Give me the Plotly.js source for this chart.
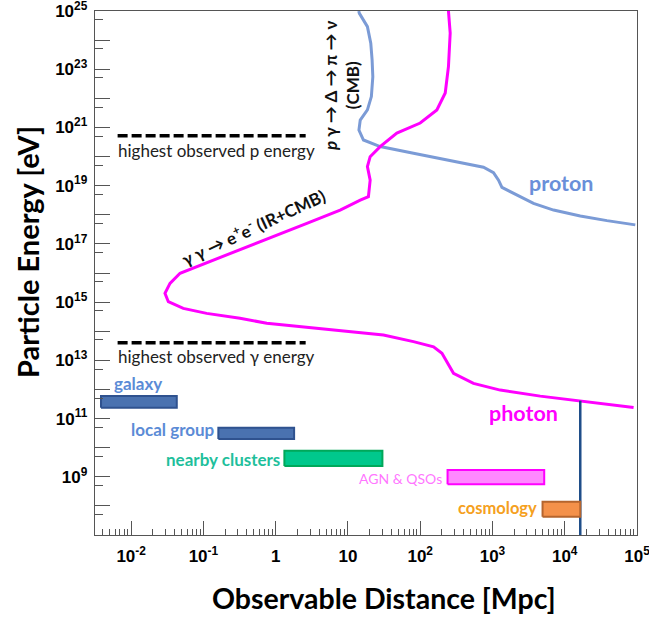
<!DOCTYPE html>
<html><head><meta charset="utf-8">
<script src="https://cdn.plot.ly/plotly-3.0.1.min.js"></script>
<style>html,body{margin:0;padding:0;background:#fff}#chart{width:649px;height:619px}</style>
</head><body><div id="chart"></div>
<script>
// ---- data ----
const protonDist = [14.1, 14.4, 18.6, 20.7, 21.6, 22.1, 21.1, 18.6, 14.8, 14.2, 16.4, 27.9, 80.7, 234, 751, 1033, 1213, 1352, 2178, 3698, 7000, 16400, 38400, 94700];
const protonEnergy = [1e25, 8.3e24, 2.9e24, 7.8e23, 2.1e23, 5.5e22, 1.15e22, 4.0e21, 1.8e21, 8.1e20, 3.7e20, 2.2e20, 1.3e20, 7.6e19, 4.3e19, 2.8e19, 1.55e19, 8.7e18, 4.8e18, 2.45e18, 1.45e18, 9.1e17, 6.3e17, 4.5e17];

const photonDist = [246, 260, 246, 222, 170, 100, 47.5, 27.9, 20.3, 18.6, 20.3, 19.2, 14.8, 7.8, 2.70, 0.93, 0.321, 0.111, 0.0475, 0.0345, 0.0294, 0.0327, 0.0527, 0.111, 0.321, 0.753, 2.70, 9.66, 31.0, 80.7, 153, 200, 246, 289, 546, 1280, 4580, 16400, 38400, 89700];
const photonEnergy = [1e25, 1.75e24, 1.22e23, 1.52e22, 4.0e21, 1.42e21, 6.4e20, 2.2e20, 9.9e19, 4.5e19, 1.55e19, 4.2e18, 3.2e18, 1.45e18, 5.1e17, 1.77e17, 6.2e16, 2.15e16, 9.8e15, 4.4e15, 2.0e15, 1.03e15, 6.1e14, 4.1e14, 2.8e14, 1.87e14, 1.36e14, 1.04e14, 7.4e13, 4.4e13, 2.9e13, 1.74e13, 6.9e12, 3.6e12, 1.62e12, 9.5e11, 5.9e11, 4.1e11, 3.2e11, 2.4e11];

const horizonDist = [16400, 16400];
const horizonEnergy = [4.1e11, 1e7];

const maxPDist = [0.0065, 2.6];
const maxPEnergy = [5.2e20, 5.2e20];
const maxGDist = [0.0065, 2.6];
const maxGEnergy = [4.0e13, 4.0e13];

const scaleNames = ["galaxy", "local group", "nearby clusters", "AGN & QSOs", "cosmology"];
const scaleDistMin = [0.00383, 0.161, 1.32, 239, 4930];
const scaleDistMax = [0.0428, 1.80, 30.0, 5200, 16400];
const scaleEnergyMin = [2.36e11, 1.98e10, 2.34e9, 5.5e8, 4.25e7];
const scaleEnergyMax = [5.9e11, 4.85e10, 7.85e9, 1.71e9, 1.39e8];

const yTickExp = [7,8,9,10,11,12,13,14,15,16,17,18,19,20,21,22,23,24,25];
const xTickExp = [-2,-1,0,1,2,3,4,5];
const xTickText = ["10<sup>-2</sup>","10<sup>-1</sup>","1","10","10<sup>2</sup>","10<sup>3</sup>","10<sup>4</sup>","10<sup>5</sup>"];

// ---- styles ----
const scaleFill = ["#4a72b0", "#4a72b0", "#00c88c", "#ff88ff", "#f4914a"];
const scaleLine = ["#2f528f", "#2f528f", "#00a85a", "#ff00ff", "#b5652e"];

const traces = [];
traces.push({x: protonDist, y: protonEnergy, mode: 'lines', line: {color: '#7b9bd6', width: 3}, hoverinfo: 'skip'});
traces.push({x: photonDist, y: photonEnergy, mode: 'lines', line: {color: '#ff00ff', width: 3}, hoverinfo: 'skip'});
traces.push({x: horizonDist, y: horizonEnergy, mode: 'lines', line: {color: '#1f4e89', width: 2.5}, hoverinfo: 'skip'});
traces.push({x: maxPDist, y: maxPEnergy, mode: 'lines', line: {color: '#000', width: 3.5, dash: '10px,4px'}, hoverinfo: 'skip'});
traces.push({x: maxGDist, y: maxGEnergy, mode: 'lines', line: {color: '#000', width: 3.5, dash: '10px,4px'}, hoverinfo: 'skip'});
for (let i = 0; i < scaleNames.length; i++) {
  const a = scaleDistMin[i], b = scaleDistMax[i], c = scaleEnergyMin[i], d = scaleEnergyMax[i];
  traces.push({x: [a, b, b, a, a], y: [c, c, d, d, c], mode: 'lines', fill: 'toself',
    fillcolor: scaleFill[i], line: {color: scaleLine[i], width: 2}, name: scaleNames[i], hoverinfo: 'skip'});
}

const yMinor = [];
for (let e = 7; e < 25; e++) yMinor.push(5 * Math.pow(10, e));
const xMinor = [];
for (let e = -3; e < 5; e++) for (let m = 2; m <= 9; m++) xMinor.push(m * Math.pow(10, e));

const txt = 'Lato, "Open Sans", sans-serif';
const X = px => -2.5 + (px - 95) / 72.23;
const Y = py => 25 - (py - 11) / 29.11;
const ann = [
  {x: X(137.5), y: Y(383), text: 'galaxy', font: {family: txt, size: 17, color: '#5b8bd6', weight: 'bold'}},
  {x: X(172.8), y: Y(429), text: 'local group', font: {family: txt, size: 17, color: '#5b8bd6', weight: 'bold'}},
  {x: X(223.3), y: Y(459.3), text: 'nearby clusters', font: {family: txt, size: 17, color: '#1fbf9c', weight: 'bold'}},
  {x: X(400), y: Y(478.3), text: 'AGN &amp; QSOs', font: {family: txt, size: 14, color: '#ff77ff'}},
  {x: X(497.5), y: Y(508.3), text: 'cosmology', font: {family: txt, size: 16.5, color: '#f5a020', weight: 'bold'}},
  {x: X(523), y: Y(413.3), text: 'photon', font: {family: txt, size: 21.5, color: '#ff00ff', weight: 'bold'}},
  {x: X(561), y: Y(183.3), text: 'proton', font: {family: txt, size: 21.5, color: '#6a8fd9', weight: 'bold'}},
  {x: X(116), y: Y(150.7), xanchor: 'left', text: 'highest observed p energy', font: {family: txt, size: 17, color: '#222'}},
  {x: X(116), y: Y(356.7), xanchor: 'left', text: 'highest observed γ energy', font: {family: txt, size: 17, color: '#222'}},
  {x: X(341), y: Y(86), textangle: -90, text: '<i>p</i> γ → Δ → π → ν<br>(CMB)', font: {family: txt, size: 17, color: '#111', weight: 'bold'}},
  {x: X(253), y: Y(226), textangle: -25, text: 'γ γ → e<sup>+</sup>e<sup>-</sup> (IR+CMB)', font: {family: txt, size: 17, color: '#111', weight: 'bold'}},
  {xref: 'paper', yref: 'paper', x: (384-95)/541.7, y: 1 - (598-11)/524, text: 'Observable Distance [Mpc]', font: {family: txt, size: 28.5, color: '#000', weight: 'bold'}},
  {xref: 'paper', yref: 'paper', x: (28-95)/541.7, y: 1 - (252-11)/524, textangle: -90, text: 'Particle Energy [eV]', font: {family: txt, size: 29, color: '#000', weight: 'bold'}}
].map(a => Object.assign({xref: 'x', yref: 'y', showarrow: false, xanchor: 'center', yanchor: 'middle'}, a));

const layout = {
  width: 649, height: 619,
  margin: {l: 95, r: 12.3, t: 11, b: 84},
  paper_bgcolor: '#fff', plot_bgcolor: '#fff',
  showlegend: false,
  xaxis: {type: 'log', range: [-2.5, 5], showgrid: false, zeroline: false,
    showline: true, linecolor: '#555', linewidth: 1.3, mirror: true,
    ticks: 'inside', ticklen: 14, tickcolor: '#555', tickwidth: 1,
    tickmode: 'array', tickvals: xTickExp.map(e => Math.pow(10, e)), ticktext: xTickText,
    tickfont: {family: '"Liberation Sans", Arial, sans-serif', size: 17, color: '#000', weight: 'bold'},
    ticklabelstandoff: 5, ticklabeloverflow: 'allow',
    minor: {tickmode: 'array', tickvals: xMinor, ticks: 'inside', ticklen: 6, tickcolor: '#555', tickwidth: 1, showgrid: false}},
  yaxis: {type: 'log', range: [7, 25], showgrid: false, zeroline: false,
    showline: true, linecolor: '#555', linewidth: 1.3, mirror: true,
    ticks: 'inside', ticklen: 15, tickcolor: '#555', tickwidth: 1,
    tickmode: 'array', tickvals: yTickExp.map(e => Math.pow(10, e)),
    ticktext: yTickExp.map(e => (e % 2 === 1 && e > 7) ? '10<sup>' + e + '</sup>' : ''),
    tickfont: {family: '"Liberation Sans", Arial, sans-serif', size: 17, color: '#000', weight: 'bold'},
    ticklabelstandoff: 3, ticklabeloverflow: 'allow',
    minor: {tickmode: 'array', tickvals: yMinor, ticks: 'inside', ticklen: 8, tickcolor: '#555', tickwidth: 1, showgrid: false}},
  annotations: ann
};

Plotly.newPlot('chart', traces, layout, {displayModeBar: false, staticPlot: true});
</script>
</body></html>
